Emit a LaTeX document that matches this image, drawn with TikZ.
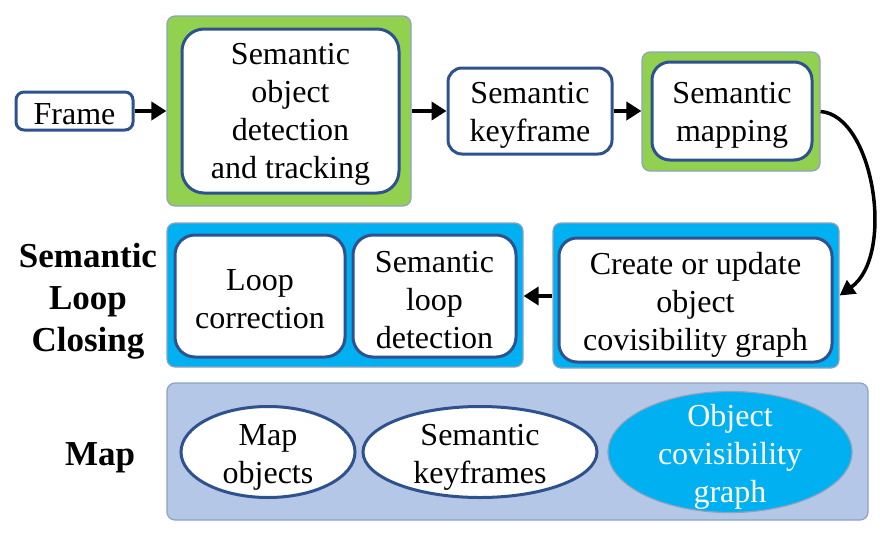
\documentclass[tikz,border=0pt]{standalone}
\usepackage{fontspec}
\setmainfont{Liberation Serif}
\newfontfamily\tnr{Liberation Serif}
\usetikzlibrary{shapes.geometric,arrows.meta}
\definecolor{dblue}{HTML}{2F528F}
\definecolor{gframe}{HTML}{8EA2C0}
\definecolor{lgreen}{HTML}{92D050}
\definecolor{cyanb}{HTML}{00B0F0}
\definecolor{mapfill}{HTML}{B4C7E7}
\begin{document}
\begin{tikzpicture}[x=1pt,y=-1pt,
  outerbox/.style={draw=gframe, line width=1.2pt, rounded corners=8pt, inner sep=0pt},
  whitebox/.style={draw=dblue, line width=3pt, fill=white, rounded corners=#1, inner sep=0pt},
  ell/.style={ellipse, draw=dblue, line width=3pt, fill=white, inner sep=0pt},
  txt/.style={align=center, inner sep=0pt, font=\tnr\fontsize{32}{38}\selectfont},
  lbl/.style={align=center, inner sep=0pt, font=\tnr\fontsize{35}{42}\selectfont\bfseries},
  arr/.style={line width=4.5pt, -{Triangle[length=15pt,width=18pt]}},
  carr/.style={line width=3.5pt, -{Triangle[length=15pt,width=16pt]}}]
\useasboundingbox (0,0) rectangle (893,533);
% outer containers
\node[outerbox, fill=lgreen, minimum width=244pt, minimum height=190pt] (o1) at (289,111) {};
\node[outerbox, fill=lgreen, minimum width=178pt, minimum height=119pt] (o2) at (731,111.5) {};
\node[outerbox, fill=cyanb, minimum width=286pt, minimum height=145pt] (oR) at (696,295.5) {};
\node[outerbox, fill=cyanb, minimum width=356pt, minimum height=144pt] (oL) at (345,295) {};
\node[outerbox, fill=mapfill, minimum width=701pt, minimum height=137pt] (omap) at (517.5,451.5) {};
% inner boxes
\node[whitebox=8pt, minimum width=117pt, minimum height=38pt] (frame) at (74.5,111) {};
\node[whitebox=22pt, minimum width=217pt, minimum height=164pt] (det) at (290.5,111) {};
\node[whitebox=14pt, minimum width=164pt, minimum height=86pt] (kf) at (530,111) {};
\node[whitebox=18pt, minimum width=160pt, minimum height=98pt] (smap) at (732,111) {};
\node[whitebox=18pt, minimum width=273pt, minimum height=124pt] (cov) at (695.5,300) {};
\node[whitebox=20pt, minimum width=170pt, minimum height=122pt] (lc) at (260,296) {};
\node[whitebox=20pt, minimum width=163pt, minimum height=122pt] (sld) at (434.5,296) {};
% map ellipses
\node[ell, minimum width=174pt, minimum height=91pt] (mo) at (268,452) {};
\node[ell, minimum width=234pt, minimum height=91pt] (skf) at (480,452) {};
\node[ell, draw=gframe, line width=1.2pt, fill=cyanb, minimum width=244pt, minimum height=121pt] (ocg) at (730,452) {};
% texts
\node[txt] (frame-t) at ([yshift=-3pt]frame.center) {Frame};
\node[txt] (det-t) at ([yshift=-3.5pt]det.center) {Semantic\\object\\detection\\and tracking};
\node[txt] (kf-t) at ([yshift=-4pt]kf.center) {Semantic\\keyframe};
\node[txt] (smap-t) at ([yshift=-4pt]smap.center) {Semantic\\mapping};
\node[txt] (cov-t) at ([yshift=-5pt]cov.center) {Create or update\\object\\covisibility graph};
\node[txt] (lc-t) at ([yshift=-3pt]lc.center) {Loop\\correction};
\node[txt] (sld-t) at ([yshift=-4pt]sld.center) {Semantic\\loop\\detection};
\node[txt] (mo-t) at ([yshift=-5.5pt]mo.center) {Map\\objects};
\node[txt] (skf-t) at ([yshift=-5.5pt]skf.center) {Semantic\\keyframes};
\node[txt, text=white] (ocg-t) at ([yshift=-5pt]ocg.center) {Object\\covisibility\\graph};
% labels
\node[lbl] (slc) at (88,301) {Semantic\\Loop\\Closing};
\node[lbl] (maplbl) at (100,458) {Map};
% connectors
\draw[arr] (frame.east) -- (o1.west);
\draw[arr] (o1.east |- kf.west) -- (kf.west);
\draw[arr] (kf.east) -- (o2.west |- kf.east);
\draw[carr] (o2.east) .. controls +(53,4) and +(56,-40) .. (oR.east);
\draw[arr] (oR.west |- lc.east) -- (oL.east |- lc.east);
\end{tikzpicture}
\end{document}
